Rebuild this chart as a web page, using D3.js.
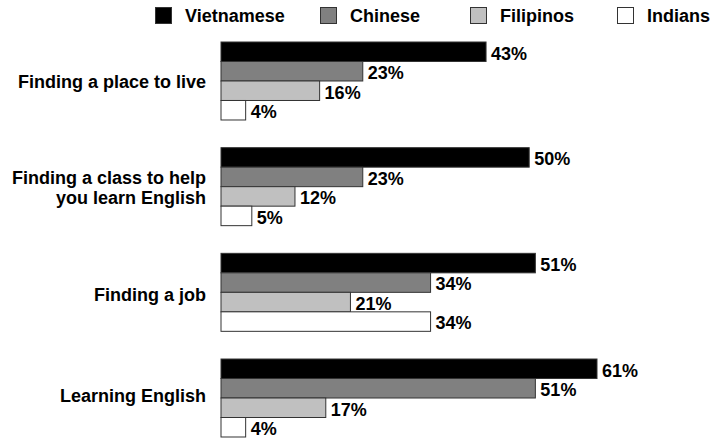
<!DOCTYPE html>
<html>
<head>
<meta charset="utf-8">
<script src="https://cdn.jsdelivr.net/npm/d3@7"></script>
<style>
  body { margin: 0; background: #fff; }
  text { font-family: "Liberation Sans", Arial, sans-serif; font-weight: bold; fill: #000; }
</style>
</head>
<body>
<div id="chart"></div>
<script>
// categories (two-line labels split on "|")
const categories = [
  "Finding a place to live",
  "Finding a class to help|you learn English",
  "Finding a job",
  "Learning English"
];
const series = ["Vietnamese", "Chinese", "Filipinos", "Indians"];
const vietnamese = [43, 50, 51, 61];
const chinese    = [23, 23, 34, 51];
const filipinos  = [16, 12, 21, 17];
const indians    = [4, 5, 34, 4];

const colors = ["#000000", "#808080", "#c0c0c0", "#ffffff"];

const width = 714, height = 439;
const fontSize = 18;
// small vertical nudges of the category labels, as in the original
const labelShift = [0, 0, 1.5, -3.5];

const values = [vietnamese, chinese, filipinos, indians];
const data = categories.map((c, i) => ({
  cat: c,
  vals: series.map((s, j) => ({ series: s, value: values[j][i] }))
}));

const svg = d3.select("#chart").append("svg")
  .attr("width", width)
  .attr("height", height);

const x = d3.scaleLinear()
  .domain([0, 61])
  .range([221, 597]);

const y = d3.scaleBand()
  .domain(categories)
  .range([42, 437])
  .paddingInner(0.262);

const ySub = d3.scaleBand()
  .domain(series)
  .range([0, y.bandwidth()]);

const color = d3.scaleOrdinal().domain(series).range(colors);

// bars
const groups = svg.append("g")
  .selectAll("g")
  .data(data)
  .join("g")
  .attr("transform", d => `translate(0,${y(d.cat)})`);

groups.selectAll("rect")
  .data(d => d.vals)
  .join("rect")
  .attr("x", x(0))
  .attr("y", d => ySub(d.series))
  .attr("width", d => x(d.value) - x(0))
  .attr("height", ySub.bandwidth())
  .attr("fill", d => color(d.series))
  .attr("stroke", "#333")
  .attr("stroke-width", 1);

groups.selectAll("text.val")
  .data(d => d.vals)
  .join("text")
  .attr("class", "val")
  .attr("x", d => x(d.value) + 5)
  .attr("y", d => ySub(d.series) + ySub.bandwidth() / 2)
  .attr("dy", "0.44em")
  .attr("font-size", fontSize)
  .text(d => d.value + "%");

// category labels
const catLabels = svg.append("g")
  .selectAll("text")
  .data(categories)
  .join("text")
  .attr("text-anchor", "end")
  .attr("x", 206)
  .attr("font-size", fontSize)
  .attr("y", (d, i) => y(d) + y.bandwidth() / 2 + labelShift[i]);

catLabels.each(function(d) {
  const lines = d.split("|");
  const t = d3.select(this);
  lines.forEach((ln, i) => {
    t.append("tspan")
      .attr("x", 206)
      .attr("dy", i === 0 ? (0.4 - (lines.length - 1) * 0.55) + "em" : "1.1em")
      .text(ln);
  });
});

// legend
const legendX = [155, 320, 470, 617];
const legend = svg.append("g")
  .selectAll("g")
  .data(series)
  .join("g")
  .attr("transform", (d, i) => `translate(${legendX[i]},7)`);

legend.append("rect")
  .attr("x", 0.5)
  .attr("y", 0.5)
  .attr("width", 16)
  .attr("height", 16)
  .attr("fill", d => color(d))
  .attr("stroke", "#333");

legend.append("text")
  .attr("x", 30)
  .attr("y", 14.5)
  .attr("font-size", fontSize)
  .text(d => d);
</script>
</body>
</html>
